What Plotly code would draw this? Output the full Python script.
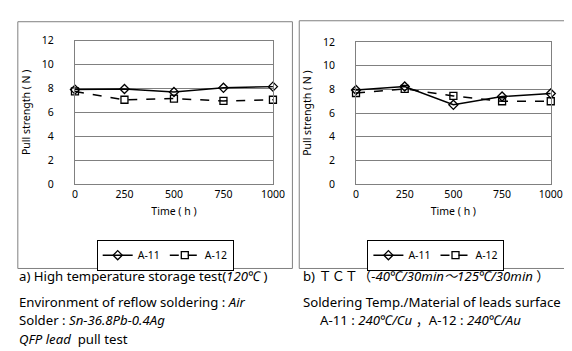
import plotly.graph_objects as go

W, H = 572, 351

times = [0, 250, 500, 750, 1000]
hts_a11 = [7.9, 7.95, 7.7, 8.05, 8.15]
hts_a12 = [7.75, 7.05, 7.15, 6.95, 7.05]
tct_a11 = [7.95, 8.25, 6.7, 7.4, 7.65]
tct_a12 = [7.7, 8.05, 7.45, 7.0, 7.0]
y_ticks = [0, 2, 4, 6, 8, 10, 12]
series_names = ["A-11", "A-12"]

FONT = "Noto Sans, Noto Sans CJK JP, DejaVu Sans"


def px(x):
    return x / W


def py(y):
    return 1 - y / H


fig = go.Figure()

styles = [
    dict(symbol="diamond-open", dash="solid"),
    dict(symbol="square-open", dash="dash"),
]

for (a11, a12), xa, ya, leg in [
    ((hts_a11, hts_a12), "x", "y", "legend"),
    ((tct_a11, tct_a12), "x2", "y2", "legend2"),
]:
    for vals, name, st in zip((a11, a12), series_names, styles):
        fig.add_trace(go.Scatter(
            x=times, y=vals, name=name, xaxis=xa, yaxis=ya, legend=leg,
            mode="lines+markers", cliponaxis=False,
            line=dict(color="black", width=1.5, dash=st["dash"]),
            marker=dict(symbol=st["symbol"], size=7, color="black",
                        line=dict(color="black", width=1.3)),
        ))

axis_common = dict(
    showline=True, linecolor="#808080", linewidth=1, mirror=True,
    ticks="", zeroline=False,
    tickfont=dict(family=FONT, size=10.5, color="black"),
)

fig.update_layout(
    width=W, height=H, margin=dict(l=0, r=0, t=0, b=0),
    paper_bgcolor="white", plot_bgcolor="white",
    font=dict(family=FONT, color="black"),
    xaxis=dict(domain=[px(65.7), px(269)], range=[0, 1000], tickvals=times,
               showgrid=False, anchor="y", ticklabelstandoff=0,
               title=dict(text="Time ( h )", font=dict(size=10.5), standoff=8),
               **axis_common),
    yaxis=dict(domain=[py(176), py(26.7)], range=[0, 12], tickvals=y_ticks,
               showgrid=True, gridcolor="#808080", gridwidth=1, anchor="x",
               ticklabelstandoff=18,
               title=dict(text="Pull strength ( N )", font=dict(size=10.5), standoff=9),
               **axis_common),
    xaxis2=dict(domain=[px(354.3), px(554.3)], range=[0, 1000], tickvals=times,
                showgrid=False, anchor="y2", ticklabelstandoff=0,
                title=dict(text="Time ( h )", font=dict(size=10.5), standoff=8),
                **axis_common),
    yaxis2=dict(domain=[py(176), py(28.3)], range=[0, 12], tickvals=y_ticks,
                showgrid=True, gridcolor="#808080", gridwidth=1, anchor="x2",
                ticklabelstandoff=18,
                title=dict(text="Pull strength ( N )", font=dict(size=10.5), standoff=9),
                **axis_common),
    legend=dict(orientation="h", x=px(88), y=py(234), xanchor="left", yanchor="top",
                bordercolor="black", borderwidth=1, bgcolor="white",
                font=dict(family=FONT, size=10.5), itemwidth=30,
                tracegroupgap=0),
    legend2=dict(orientation="h", x=px(366), y=py(234), xanchor="left", yanchor="top",
                 bordercolor="black", borderwidth=1, bgcolor="white",
                 font=dict(family=FONT, size=10.5), itemwidth=30,
                 tracegroupgap=0),
)

# outer frames of the two panels
fig.add_shape(type="rect", xref="paper", yref="paper",
              x0=px(7), x1=px(289), y0=py(264), y1=py(7),
              line=dict(color="#808080", width=1))
fig.add_shape(type="rect", xref="paper", yref="paper",
              x0=px(296), x1=px(570), y0=py(264), y1=py(6),
              line=dict(color="#808080", width=1))

notes = [
    (8, 272, "a) High temperature storage test(<i>120℃</i> )"),
    (300, 272, "b) ＴＣＴ（<i>-40℃/30min～125℃/30min</i> ）"),
    (8, 299, "Environment of reflow soldering : <i>Air</i>"),
    (8, 318, "Solder : <i>Sn-36.8Pb-0.4Ag</i>"),
    (8, 337, "<i>QFP lead</i>  pull test"),
    (300, 299, "Soldering Temp./Material of leads surface"),
    (317, 318, "A-11 : <i>240℃/Cu</i> ，A-12 : <i>240℃/Au</i>"),
]
for x, y, t in notes:
    fig.add_annotation(xref="paper", yref="paper", x=px(x), y=py(y),
                       xanchor="left", yanchor="middle", text=t, showarrow=False,
                       borderpad=0, borderwidth=0,
                       font=dict(family=FONT, size=13.2, color="black"))

fig.write_html("out.html")
